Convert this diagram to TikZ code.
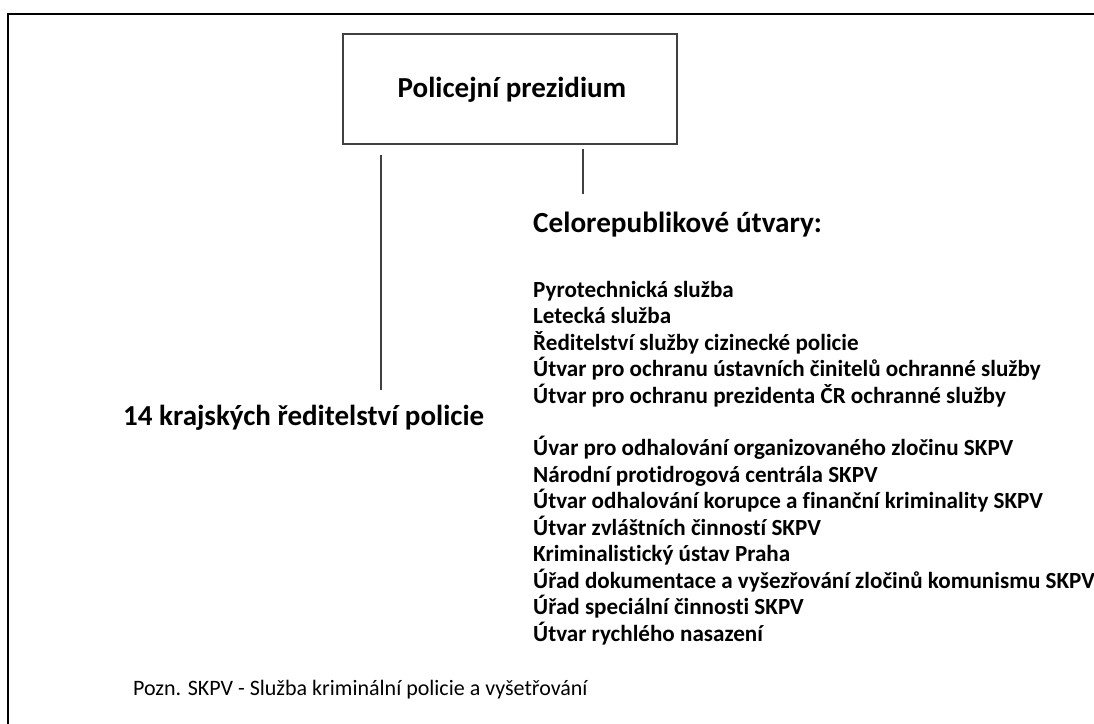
\documentclass[tikz,border=0pt]{standalone}
\usepackage{fontspec}
\setmainfont[RawFeature={-liga}]{Carlito}
\begin{document}
\begin{tikzpicture}[x=1pt,y=-1pt,
  lbl/.style={anchor=base west,inner sep=0pt,font=\bfseries\fontsize{23.1}{26}\selectfont},
  conn/.style={draw=black!75,line width=1.4pt}]
\useasboundingbox (0,0) rectangle (1094,723);
\fill[white] (0,0) rectangle (1094,723);
% frame
\draw[line width=2.2pt] (8.3,730) -- (8.3,14.2) -- (1100,14.2);
% top box
\node[draw=black!75,line width=1.4pt,minimum width=334pt,minimum height=110pt,inner sep=0pt] (pp) at (510,89) {};
\node[anchor=base,inner sep=0pt,font=\bfseries\fontsize{29}{32}\selectfont] (pptxt) at (512,97) {Policejní prezidium};
% connectors
\coordinate (la) at (381,155);
\coordinate (lb) at (381,390);
\coordinate (ra) at (583,149);
\coordinate (rb) at (583,194);
\draw[conn] (la) -- (lb);
\draw[conn] (ra) -- (rb);
% left
\node[anchor=base west,inner sep=0pt,font=\bfseries\fontsize{29}{32}\selectfont] (kraj) at (123,425) {14 krajských ředitelství policie};
% right heading
\node[anchor=base west,inner sep=0pt,font=\bfseries\fontsize{29.2}{32}\selectfont] (cel) at (533,232) {Celorepublikové útvary:};
% list
\node[lbl] (l1) at (533,297.5) {Pyrotechnická služba};
\node[lbl] (l2) at (533,323.9) {Letecká služba};
\node[lbl] (l3) at (533,350.3) {Ředitelství služby cizinecké policie};
\node[lbl] (l4) at (533,376.7) {Útvar pro ochranu ústavních činitelů ochranné služby};
\node[lbl] (l5) at (533,403.1) {Útvar pro ochranu prezidenta ČR ochranné služby};
\node[lbl] (m1) at (533,455.5) {Úvar pro odhalování organizovaného zločinu SKPV};
\node[lbl] (m2) at (533,482) {Národní protidrogová centrála SKPV};
\node[lbl] (m3) at (533,508.5) {Útvar odhalování korupce a finanční kriminality SKPV};
\node[lbl] (m4) at (533,535) {Útvar zvláštních činností SKPV};
\node[lbl] (m5) at (533,561.5) {Kriminalistický ústav Praha};
\node[lbl] (m6) at (533,588) {Úřad dokumentace a vyšezřování zločinů komunismu SKPV};
\node[lbl] (m7) at (533,614.5) {Úřad speciální činnosti SKPV};
\node[lbl] (m8) at (533,641) {Útvar rychlého nasazení};
% note
\node[anchor=base west,inner sep=0pt,font=\fontsize{22}{25}\selectfont] (pozn) at (133,695) {Pozn. SKPV - Služba kriminální policie a vyšetřování};
\end{tikzpicture}
\end{document}
